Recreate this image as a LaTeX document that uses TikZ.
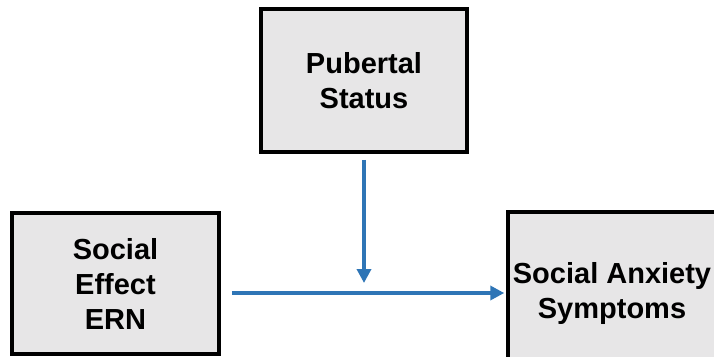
\documentclass[tikz,border=0pt]{standalone}
\usepackage{fontspec}
\setmainfont{Liberation Sans}
\usepackage{tikz}
\usetikzlibrary{arrows.meta, calc}
\definecolor{boxgray}{RGB}{231,230,231}
\definecolor{arrowblue}{RGB}{46,117,182}
\tikzstyle{varbox} = [rectangle, minimum width=207pt, minimum height=141pt, text centered, align=center, draw=black, line width=3.5pt, fill=boxgray, font=\fontsize{29}{35}\selectfont\bfseries]
\tikzstyle{arrow} = [-{Triangle[length=14pt, width=14pt]}, line width=4pt, draw=arrowblue]

\begin{document}
\begin{tikzpicture}[x=1pt, y=-1pt]
  \useasboundingbox (0,0) rectangle (714,356);
  %three variables
  \node (pub) [varbox, minimum width=206pt, minimum height=143pt] at (364,80.5) {Pubertal\\Status};
  \node (ern) [varbox] at (115.5,283.5) {Social\\Effect\\ERN};
  \node (anx) [varbox, minimum width=208pt, minimum height=162pt] at (612,293) {Social Anxiety\\Symptoms};

  %moderation point on the main path
  \coordinate (mod) at (pub.south |- 0,293);

  %connect them
  \draw [arrow, shorten <=11pt, shorten >=2pt] (ern.east |- mod) -- (anx.west |- mod);
  \draw [arrow, shorten <=6pt, shorten >=10pt] (pub) -- (mod);
\end{tikzpicture}
\end{document}
